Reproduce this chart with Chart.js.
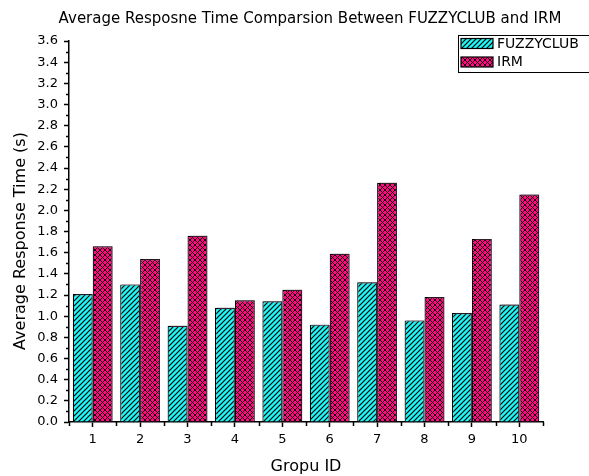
<html>
<head>
<script src="https://cdn.jsdelivr.net/npm/chart.js@4.4.1/dist/chart.umd.min.js"></script>
</head>
<body style="margin:0; background:#fff; overflow:hidden;">
<canvas id="rtChart" width="589" height="476"></canvas>

<script>
var groupIds = ["1", "2", "3", "4", "5", "6", "7", "8", "9", "10"];
var fuzzyValues = [1.21, 1.30, 0.91, 1.08, 1.14, 0.92, 1.32, 0.96, 1.03, 1.11];
var irmValues = [1.66, 1.54, 1.76, 1.15, 1.25, 1.59, 2.26, 1.18, 1.73, 2.15];
var yTicks = [0, 0.2, 0.4, 0.6, 0.8, 1.0, 1.2, 1.4, 1.6, 1.8, 2.0, 2.2, 2.4, 2.6, 2.8, 3.0, 3.2, 3.4, 3.6];
var seriesNames = ["FUZZYCLUB", "IRM"];

var FONT = "'DejaVu Sans', sans-serif";

// hatch fills like the origin plot
function makePattern(bg, cross) {
  var c = document.createElement("canvas");
  c.width = 5; c.height = 5;
  var g = c.getContext("2d");
  g.fillStyle = bg;
  g.fillRect(0, 0, 5, 5);
  g.strokeStyle = "#000";
  g.lineWidth = cross ? 0.9 : 1.2;
  g.beginPath();
  g.moveTo(-1, 6); g.lineTo(6, -1);
  g.moveTo(-1, 1); g.lineTo(1, -1);
  g.moveTo(4, 6); g.lineTo(6, 4);
  if (cross) {
    g.moveTo(-1, -1); g.lineTo(6, 6);
    g.moveTo(4, -1); g.lineTo(6, 1);
    g.moveTo(-1, 4); g.lineTo(1, 6);
  }
  g.stroke();
  return g.createPattern(c, "repeat");
}
var fuzzyFill = makePattern("#1ff8f8", false);
var irmFill = makePattern("#ff0a80", true);

var extras = {
  id: "extras",
  beforeDatasetsDraw: function (chart) {
    var ctx = chart.ctx;
    ctx.save();
    ctx.shadowColor = "rgba(120,70,95,0.45)";
    ctx.shadowOffsetX = 2;
    ctx.shadowOffsetY = -1;
    ctx.shadowBlur = 0;
  },
  afterDatasetsDraw: function (chart) {
    chart.ctx.restore();
  },
  afterDraw: function (chart) {
    var ctx = chart.ctx;
    var x = chart.scales.x, y = chart.scales.y;
    ctx.save();
    ctx.strokeStyle = "#000";
    ctx.lineWidth = 1.5;
    ctx.beginPath();
    // minor y ticks
    for (var i = 0; i < yTicks.length - 1; i++) {
      var py = Math.round(y.getPixelForValue((yTicks[i] + yTicks[i + 1]) / 2)) + 0.5;
      ctx.moveTo(y.right - 3, py); ctx.lineTo(y.right, py);
    }
    // category boundary ticks
    var w = (x.right - x.left) / groupIds.length;
    for (var j = 0; j <= groupIds.length; j++) {
      var px = Math.round(x.left + j * w) + 0.5;
      ctx.moveTo(px, x.top); ctx.lineTo(px, x.top + 4);
    }
    ctx.stroke();

    // chart title (wider than the plot area, so drawn here)
    ctx.fillStyle = "#000";
    ctx.textAlign = "center";
    ctx.textBaseline = "alphabetic";
    ctx.font = "15px " + FONT;
    ctx.fillText("Average Resposne Time Comparsion Between FUZZYCLUB and IRM", 310, 23);

    // y axis title
    ctx.font = "16px " + FONT;
    ctx.translate(24.5, 241);
    ctx.rotate(-Math.PI / 2);
    ctx.fillText("Average Response Time (s)", 0, 0);
    ctx.restore();

    // legend box
    ctx.save();
    ctx.fillStyle = "#fff";
    ctx.fillRect(458.5, 35.5, 140, 37);
    ctx.strokeStyle = "#000";
    ctx.lineWidth = 1;
    ctx.strokeRect(458.5, 35.5, 140, 37);
    var fills = [fuzzyFill, irmFill];
    ctx.font = "14px " + FONT;
    ctx.textBaseline = "middle";
    ctx.textAlign = "left";
    for (var k = 0; k < seriesNames.length; k++) {
      var sy = 38.5 + k * 18.5;
      ctx.fillStyle = fills[k];
      ctx.fillRect(461, sy, 32, 10);
      ctx.lineWidth = 1.2;
      ctx.strokeRect(461, sy, 32, 10);
      ctx.fillStyle = "#000";
      ctx.fillText(seriesNames[k], 497, sy + 5.5);
    }
    ctx.restore();
  }
};

new Chart("rtChart", {
  type: "bar",
  data: {
    labels: groupIds,
    datasets: [{
      label: seriesNames[0],
      data: fuzzyValues,
      backgroundColor: fuzzyFill,
      borderColor: "#000",
      borderWidth: 1.2,
      categoryPercentage: 0.84,
      barPercentage: 1.0
    }, {
      label: seriesNames[1],
      data: irmValues,
      backgroundColor: irmFill,
      borderColor: "#000",
      borderWidth: 1.2,
      categoryPercentage: 0.84,
      barPercentage: 1.0
    }]
  },
  options: {
    responsive: false,
    animation: false,
    devicePixelRatio: 1,
    layout: { padding: { left: 0, right: 46, top: 41, bottom: 0 } },
    plugins: {
      legend: { display: false },
      tooltip: { enabled: false },
      title: { display: false }
    },
    scales: {
      x: {
        offset: true,
        grid: { drawOnChartArea: false, offset: false, tickLength: 5, color: "#000", tickWidth: 1.5 },
        border: { color: "#000", width: 1.5 },
        ticks: { color: "#000", font: { family: FONT, size: 13 }, padding: 5, maxRotation: 0 },
        title: {
          display: true, text: "Gropu ID", color: "#000",
          font: { family: FONT, size: 16 }, padding: { top: 0, bottom: 0 }
        },
        afterFit: function (s) { s.height = 54; }
      },
      y: {
        min: 0,
        max: 3.6,
        afterBuildTicks: function (s) { s.ticks = yTicks.map(function (v) { return { value: v }; }); },
        grid: { drawOnChartArea: false, tickLength: 5, color: "#000", tickWidth: 1.5 },
        border: { color: "#000", width: 1.5 },
        ticks: {
          color: "#000", font: { family: FONT, size: 13 }, padding: 6,
          callback: function (v) { return Number(v).toFixed(1); }
        },
        afterFit: function (s) { s.width = 69; }
      }
    }
  },
  plugins: [extras]
});
</script>
</body>
</html>
